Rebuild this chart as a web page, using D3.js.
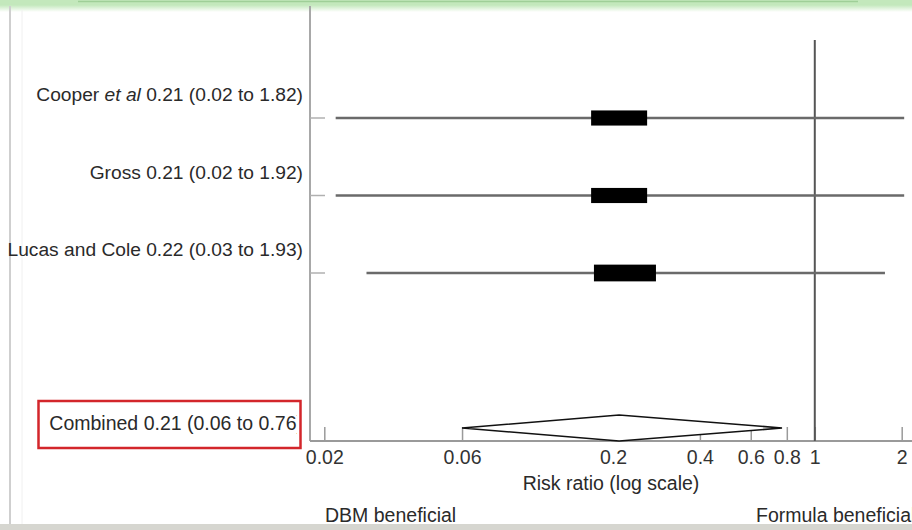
<!DOCTYPE html>
<html>
<head>
<meta charset="utf-8">
<script src="https://cdn.jsdelivr.net/npm/d3@7"></script>
<style>
  body { margin: 0; background: #fff; }
  svg { display: block; font-family: "Liberation Sans", Arial, sans-serif; }
</style>
</head>
<body>
<svg id="chart" width="912" height="530"></svg>
<script>
// studies and the values printed in their labels
var studies = ['Cooper', 'Gross', 'Lucas and Cole'];
var studySuffix = [' et al', '', ''];
var reportedRR = [0.21, 0.21, 0.22];
var reportedLow = [0.02, 0.02, 0.03];
var reportedHigh = [1.82, 1.92, 1.93];

// where the marks sit on the picture
var pointRR = [0.21, 0.21, 0.22];
var ciLow = [0.0219, 0.0219, 0.028];
var ciHigh = [2.04, 2.04, 1.75];
var weights = [31, 31, 38];

// pooled result
var combined = { label: 'Combined', rr: 0.21, low: 0.06, high: 0.77, repLow: 0.06, repHigh: 0.76 };

var tickValues = [0.02, 0.06, 0.2, 0.4, 0.6, 0.8, 1, 2];
var xTitle = 'Risk ratio (log scale)';
var leftNote = 'DBM beneficial';
var rightNote = 'Formula beneficial';

var svg = d3.select('#chart');
var W = 912, H = 530;
var plotLeft = 310, axisY = 441;

var x = d3.scaleLog().domain([0.02, 2]).range([324.3, 901.7]);
var y = d3.scaleLinear().domain([0, 4]).range([118, 428]);
var boxW = d3.scaleSqrt().domain([0, 100]).range([0, 100.6]);
var f2 = d3.format('.2f');

// frame: green band on top, grey edges
var defs = svg.append('defs');
var grad = defs.append('linearGradient').attr('id', 'topfade')
  .attr('x1', 0).attr('y1', 0).attr('x2', 0).attr('y2', 1);
grad.append('stop').attr('offset', '0%').attr('stop-color', '#c3e8bc');
grad.append('stop').attr('offset', '100%').attr('stop-color', '#ffffff');
svg.append('rect').attr('x', 0).attr('y', 0).attr('width', W).attr('height', 5).attr('fill', '#c3e8bc');
svg.append('rect').attr('x', 0).attr('y', 5).attr('width', W).attr('height', 7).attr('fill', 'url(#topfade)');
svg.append('line').attr('x1', 78).attr('x2', 858).attr('y1', 1.5).attr('y2', 1.5)
  .attr('stroke', '#9fcf98').attr('stroke-width', 1.5);
svg.append('line').attr('x1', 10).attr('x2', 10).attr('y1', 6).attr('y2', 524)
  .attr('stroke', '#cfcfcf').attr('stroke-width', 2);
svg.append('line').attr('x1', 22).attr('x2', 22).attr('y1', 10).attr('y2', 524)
  .attr('stroke', '#f0f0f0').attr('stroke-width', 1);

// y axis line and row ticks
svg.append('line').attr('x1', plotLeft).attr('x2', plotLeft).attr('y1', 6).attr('y2', axisY)
  .attr('stroke', '#a8a8a8').attr('stroke-width', 2);
svg.selectAll('.rowtick').data(studies).enter().append('line')
  .attr('class', 'rowtick')
  .attr('x1', plotLeft).attr('x2', plotLeft + 15)
  .attr('y1', function(d, i){ return y(i); })
  .attr('y2', function(d, i){ return y(i); })
  .attr('stroke', '#b0b0b0').attr('stroke-width', 1.5);

// x axis
svg.append('line').attr('x1', plotLeft).attr('x2', W).attr('y1', axisY).attr('y2', axisY)
  .attr('stroke', '#9a9a9a').attr('stroke-width', 2);
var xAxis = svg.append('g').attr('transform', 'translate(0,' + axisY + ')')
  .call(d3.axisBottom(x).tickValues(tickValues).tickSizeInner(-14).tickSizeOuter(0)
    .tickPadding(9).tickFormat(function(d){ return String(d); }));
xAxis.select('.domain').remove();
xAxis.selectAll('.tick line').attr('stroke', '#9a9a9a').attr('stroke-width', 1.5);
xAxis.selectAll('.tick text').attr('fill', '#333').style('font-size', '19.5px')
  .style('font-family', '"Liberation Sans", Arial, sans-serif');

// line of no effect
svg.append('line').attr('x1', x(1)).attr('x2', x(1)).attr('y1', 40).attr('y2', axisY)
  .attr('stroke', '#555').attr('stroke-width', 2);

// confidence intervals
svg.selectAll('.ci').data(studies).enter().append('line')
  .attr('class', 'ci')
  .attr('x1', function(d, i){ return x(ciLow[i]); })
  .attr('x2', function(d, i){ return x(ciHigh[i]); })
  .attr('y1', function(d, i){ return y(i); })
  .attr('y2', function(d, i){ return y(i); })
  .attr('stroke', '#6a6a6a').attr('stroke-width', 2.5);

// study weight boxes
svg.selectAll('.box').data(studies).enter().append('rect')
  .attr('class', 'box')
  .attr('x', function(d, i){ return x(pointRR[i]) - boxW(weights[i]) / 2; })
  .attr('y', function(d, i){ return y(i) - boxW(weights[i]) * 0.135; })
  .attr('width', function(d, i){ return boxW(weights[i]); })
  .attr('height', function(d, i){ return boxW(weights[i]) * 0.27; })
  .attr('fill', '#000');

// pooled diamond
var cy = y(4);
svg.append('path')
  .attr('d', 'M' + x(combined.low) + ',' + cy +
    'L' + x(combined.rr) + ',' + (cy - 13) +
    'L' + x(combined.high) + ',' + cy +
    'L' + x(combined.rr) + ',' + (cy + 13) + 'Z')
  .attr('fill', '#fff').attr('stroke', '#111').attr('stroke-width', 1.6);

// study labels
var labels = svg.selectAll('.label').data(studies).enter().append('text')
  .attr('class', 'label')
  .attr('x', 303)
  .attr('y', function(d, i){ return y(i) - 17; })
  .attr('text-anchor', 'end')
  .attr('fill', '#2a2a2a')
  .style('font-size', '19.2px');
labels.append('tspan').text(function(d){ return d; });
labels.append('tspan').style('font-style', 'italic').text(function(d, i){ return studySuffix[i]; });
labels.append('tspan').text(function(d, i){
  return ' ' + f2(reportedRR[i]) + ' (' + f2(reportedLow[i]) + ' to ' + f2(reportedHigh[i]) + ')';
});

// combined label, partly hidden by the red box edge
defs.append('clipPath').attr('id', 'combclip').append('rect')
  .attr('x', 0).attr('y', 380).attr('width', 297).attr('height', 80);
svg.append('text')
  .attr('x', 303).attr('y', cy + 2)
  .attr('text-anchor', 'end')
  .attr('clip-path', 'url(#combclip)')
  .attr('fill', '#2a2a2a')
  .style('font-size', '19.5px')
  .text(combined.label + ' ' + f2(combined.rr) + ' (' + f2(combined.repLow) + ' to ' + f2(combined.repHigh) + ')');
svg.append('rect')
  .attr('x', 38.5).attr('y', 401).attr('width', 262).attr('height', 47)
  .attr('fill', 'none').attr('stroke', '#d3262b').attr('stroke-width', 2.5);

// axis title and notes
svg.append('text').attr('x', 611).attr('y', 490).attr('text-anchor', 'middle')
  .attr('fill', '#2a2a2a').style('font-size', '19.5px').text(xTitle);
svg.append('text').attr('x', 325).attr('y', 522)
  .attr('fill', '#2a2a2a').style('font-size', '19.5px').text(leftNote);
svg.append('text').attr('x', 756).attr('y', 522)
  .attr('fill', '#2a2a2a').style('font-size', '19.5px').text(rightNote);

// bottom grey band
svg.append('rect').attr('x', 0).attr('y', 524).attr('width', W).attr('height', 6).attr('fill', '#d6d6d0');
</script>
</body>
</html>
